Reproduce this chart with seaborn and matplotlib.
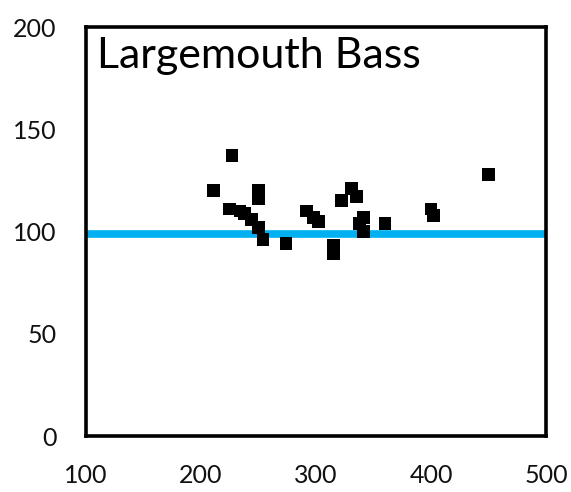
import pandas as pd
import matplotlib
matplotlib.use('Agg')
import matplotlib.pyplot as plt
import seaborn as sns

# points
length = [227, 211, 250, 250, 225, 234, 238, 244, 250, 254,
          274, 292, 298, 302, 315, 315, 322, 331, 335, 341,
          338, 341, 360, 400, 402, 450]
relwt = [137, 120, 120, 116, 111, 110, 109, 106, 102, 96,
         94, 110, 107, 105, 93, 89, 115, 121, 117, 107,
         104, 100, 104, 111, 108, 128]
ref_line = 99
title = 'Largemouth Bass'
xticks = [100, 200, 300, 400, 500]
yticks = [0, 50, 100, 150, 200]

df = pd.DataFrame({'length': length, 'relwt': relwt})

sns.set_style('white')
plt.rcParams['font.family'] = ['Lato', 'DejaVu Sans']

fig = plt.figure(figsize=(5.71, 4.92), dpi=100)
ax = fig.add_axes([0.1506, 0.1138, 0.8056, 0.8313])

ax.axhline(ref_line, color='#00B0F0', lw=5.5, zorder=1)
sns.scatterplot(data=df, x='length', y='relwt', marker='s', s=85,
                color='black', edgecolor='none', ax=ax, zorder=2)

ax.set_xlim(100, 500)
ax.set_ylim(0, 200)
ax.set_xticks(xticks)
ax.set_yticks(yticks)
ax.set_xlabel('')
ax.set_ylabel('')
for s in ax.spines.values():
    s.set_visible(True)
    s.set_color('black')
    s.set_linewidth(2.6)
ax.tick_params(axis='both', direction='out', length=8, width=1.2,
               labelsize=18, colors='black', labelcolor='#111111')
ax.tick_params(axis='y', pad=13)
ax.tick_params(axis='x', pad=12)

ax.text(0.025, 0.975, title, transform=ax.transAxes, fontsize=31,
        va='top', ha='left', color='black')

fig.savefig('out.png', dpi=100)
